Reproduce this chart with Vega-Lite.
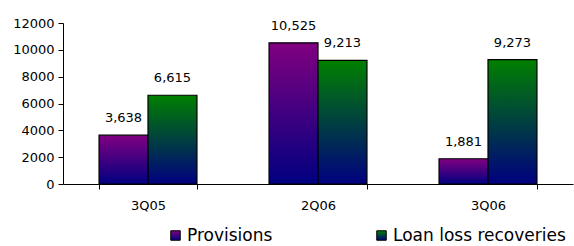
{
  "$schema": "https://vega.github.io/schema/vega-lite/v6.json",
  "width": 510,
  "height": 161,
  "autosize": "none",
  "padding": {"left": 63, "top": 23, "right": 1, "bottom": 62},
  "background": "white",
  "config": {
    "view": {"stroke": null},
    "font": "DejaVu Sans",
    "axis": {"labelColor": "black", "domainColor": "black", "tickColor": "black", "grid": false, "labelFont": "DejaVu Sans", "labelFontSize": 13, "title": null},
    "legend": {
      "title": null, "orient": "none", "direction": "horizontal", "symbolType": "square", "symbolSize": 90,
      "symbolStrokeWidth": 1, "symbolOpacity": 1, "labelFont": "DejaVu Sans", "labelFontSize": 17,
      "labelColor": "black", "labelOffset": 3, "labelLimit": 300
    }
  },
  "data": {
    "values": [
      {"quarter": "3Q05", "series": "Provisions", "value": 3638},
      {"quarter": "3Q05", "series": "Loan loss recoveries", "value": 6615},
      {"quarter": "2Q06", "series": "Provisions", "value": 10525},
      {"quarter": "2Q06", "series": "Loan loss recoveries", "value": 9213},
      {"quarter": "3Q06", "series": "Provisions", "value": 1881},
      {"quarter": "3Q06", "series": "Loan loss recoveries", "value": 9273}
    ]
  },
  "encoding": {
    "x": {
      "field": "quarter", "type": "nominal", "sort": ["3Q05", "2Q06", "3Q06"],
      "scale": {"paddingInner": 0.424, "paddingOuter": 0.212},
      "axis": {"labelAngle": 0, "tickBand": "extent", "tickSize": 5, "labelPadding": 10, "domainWidth": 1}
    },
    "xOffset": {"field": "series", "type": "nominal", "sort": ["Provisions", "Loan loss recoveries"], "scale": {"domain": ["Provisions", "Loan loss recoveries"]}},
    "y": {
      "field": "value", "type": "quantitative",
      "scale": {"domain": [0, 12000], "nice": false},
      "axis": {"values": [0, 2000, 4000, 6000, 8000, 10000, 12000], "format": "d", "tickSize": 5, "labelPadding": 4}
    }
  },
  "layer": [
    {
      "transform": [{"filter": "datum.series === 'Provisions'"}],
      "mark": {"type": "bar", "strokeWidth": 1.2, "fill": {"gradient": "linear", "x1": 0, "y1": 0, "x2": 0, "y2": 1, "stops": [{"offset": 0, "color": "#800080"}, {"offset": 1, "color": "#000080"}]}},
      "encoding": {
        "stroke": {
          "field": "series", "type": "nominal",
          "scale": {"domain": ["Provisions"], "range": ["black"]},
          "legend": {
            "legendX": 104, "legendY": 204,
            "encode": {"symbols": {"update": {"fill": {"value": {"gradient": "linear", "x1": 0, "y1": 0, "x2": 0, "y2": 1, "stops": [{"offset": 0, "color": "#800080"}, {"offset": 1, "color": "#000080"}]}}, "fillOpacity": {"value": 1}}}}
          }
        }
      }
    },
    {
      "transform": [{"filter": "datum.series === 'Loan loss recoveries'"}],
      "mark": {"type": "bar", "strokeWidth": 1.2, "fill": {"gradient": "linear", "x1": 0, "y1": 0, "x2": 0, "y2": 1, "stops": [{"offset": 0, "color": "#008000"}, {"offset": 1, "color": "#000080"}]}},
      "encoding": {
        "stroke": {
          "field": "series", "type": "nominal",
          "scale": {"domain": ["Loan loss recoveries"], "range": ["black"]},
          "legend": {
            "legendX": 310, "legendY": 204,
            "encode": {"symbols": {"update": {"fill": {"value": {"gradient": "linear", "x1": 0, "y1": 0, "x2": 0, "y2": 1, "stops": [{"offset": 0, "color": "#008000"}, {"offset": 1, "color": "#000080"}]}}, "fillOpacity": {"value": 1}}}}
          }
        }
      }
    },
    {
      "mark": {"type": "text", "baseline": "alphabetic", "dy": -13, "fontSize": 13, "font": "DejaVu Sans", "color": "black"},
      "encoding": {
        "text": {"field": "value", "type": "quantitative", "format": ","}
      }
    }
  ],
  "resolve": {"scale": {"stroke": "independent"}, "legend": {"stroke": "independent"}}
}
